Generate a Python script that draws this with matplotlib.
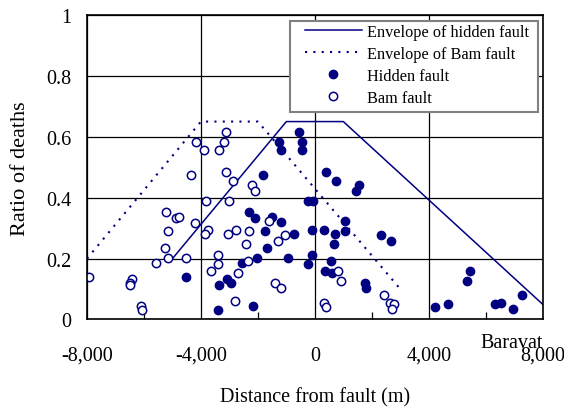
import matplotlib
matplotlib.use("Agg")
import matplotlib.pyplot as plt
from matplotlib.patches import Rectangle
from matplotlib.ticker import FuncFormatter, MultipleLocator

plt.rcParams['font.family'] = ['Liberation Serif', 'DejaVu Serif']

NAVY = '#000080'

# Envelope curves (distance in m, ratio of deaths)
env_hidden_x = [-5000, -1000, 1000, 8000]
env_hidden_y = [0.20, 0.65, 0.65, 0.05]
env_bam_x = [-8000, -4000, -2000, 3000]
env_bam_y = [0.20, 0.65, 0.65, 0.10]

# Observations near the hidden fault
hidden_x = [-4520, -3410, -3350, -3090, -2950, -2555, -2160, -2300, -2100, -1750,
            -1810, -1690, -2040, -1490, -1200, -740, -940, -1245, -1200, -550,
            -450, -450, -250, -50, -85, -85, -235, 395, 315, 360,
            760, 1450, 1565, 700, 655, 1060, 1060, 2315, 2670, 560,
            605, 1765, 1810, 4215, 4670, 5350, 5465, 6320, 6535, 6975, 7290]
hidden_y = [0.141, 0.031, 0.113, 0.132, 0.121, 0.187, 0.045, 0.353, 0.334, 0.291,
            0.475, 0.234, 0.201, 0.338, 0.320, 0.281, 0.201, 0.583, 0.555, 0.617,
            0.583, 0.555, 0.390, 0.390, 0.295, 0.211, 0.183, 0.484, 0.295, 0.159,
            0.456, 0.422, 0.442, 0.281, 0.248, 0.324, 0.291, 0.277, 0.257, 0.191,
            0.153, 0.121, 0.103, 0.040, 0.050, 0.126, 0.159, 0.050, 0.055, 0.036, 0.080]

# Observations near the Bam fault
bam_x = [-7920, -6420, -6490, -6480, -6110, -6070, -5565, -5260, -5165, -5155,
         -5215, -4865, -4755, -4205, -4510, -4355, -4160, -3900, -3810, -3760,
         -3855, -3400, -3400, -3645, -3105, -3195, -3350, -3105, -2860, -3000,
         -3055, -2755, -2695, -2800, -2405, -2300, -2335, -2205, -2100, -1605,
         -1300, -1045, -1395, -1195, 315, 395, 805, 910, 2425, 2645, 2775, 2715]
bam_y = [0.141, 0.132, 0.121, 0.113, 0.045, 0.031, 0.187, 0.234, 0.201, 0.291,
         0.353, 0.334, 0.338, 0.318, 0.201, 0.475, 0.583, 0.555, 0.390, 0.295,
         0.281, 0.211, 0.182, 0.159, 0.617, 0.583, 0.555, 0.484, 0.456, 0.390,
         0.281, 0.295, 0.153, 0.060, 0.248, 0.291, 0.192, 0.442, 0.423, 0.324,
         0.257, 0.277, 0.121, 0.103, 0.054, 0.040, 0.159, 0.126, 0.080, 0.055, 0.050, 0.036]

x_ticks = [-8000, -4000, 0, 4000, 8000]
y_ticks = [0, 0.2, 0.4, 0.6, 0.8, 1.0]

fig = plt.figure(figsize=(5.64, 4.10), dpi=100)
ax = fig.add_axes([0.1543, 0.2183, 0.8079, 0.7427])

ax.plot(env_hidden_x, env_hidden_y, color=NAVY, lw=1.1, label='Envelope of hidden fault')
ax.plot(env_bam_x, env_bam_y, color=NAVY, lw=1.5, ls=(0, (1, 3)), label='Envelope of Bam fault')
ax.plot(hidden_x, hidden_y, ls='none', marker='o', ms=6, color=NAVY,
        markeredgecolor=NAVY, label='Hidden fault')
ax.plot(bam_x, bam_y, ls='none', marker='o', ms=6, markerfacecolor='white',
        markeredgecolor=NAVY, markeredgewidth=1.1, label='Bam fault')

ax.set_xlim(-8000, 8000)
ax.set_ylim(0, 1)
ax.set_xticks(x_ticks)
ax.set_yticks(y_ticks)
ax.xaxis.set_minor_locator(MultipleLocator(2000))
ax.xaxis.set_major_formatter(FuncFormatter(lambda v, p: f'{int(v):,}'))
ax.yaxis.set_major_formatter(FuncFormatter(lambda v, p: f'{v:g}'))
ax.grid(True, which='major', color='black', lw=0.9)
ax.set_axisbelow(True)
ax.tick_params(axis='both', which='major', length=0, labelsize=14.5)
ax.tick_params(axis='y', which='major', pad=11)
ax.tick_params(axis='x', which='major', pad=19)
ax.tick_params(axis='x', which='minor', direction='in', length=5, width=0.9, color='black')
for s in ax.spines.values():
    s.set_color('black')
    s.set_linewidth(1.2)

ax.set_xlabel('Distance from fault (m)', fontsize=14.5, labelpad=16)
ax.set_ylabel('Ratio of deaths', fontsize=16, labelpad=12)

ax.text(6900, -0.075, 'Baravat', fontsize=14.5, ha='center', va='center', clip_on=False)

# Legend box drawn separately so its padding can differ horizontally and vertically
ax.add_patch(Rectangle((0.4455, 0.681), 0.5442, 0.299, transform=ax.transAxes,
                       facecolor='white', edgecolor='#808080', lw=1.5, zorder=4.5,
                       clip_on=False))
leg = ax.legend(loc='upper left', bbox_to_anchor=(0.4784, 0.972), fontsize=11.7,
                frameon=False, handlelength=3.5, handletextpad=0.3,
                borderpad=0, labelspacing=0.37, borderaxespad=0)
leg.set_zorder(5)

fig.savefig('out.png', dpi=100)
